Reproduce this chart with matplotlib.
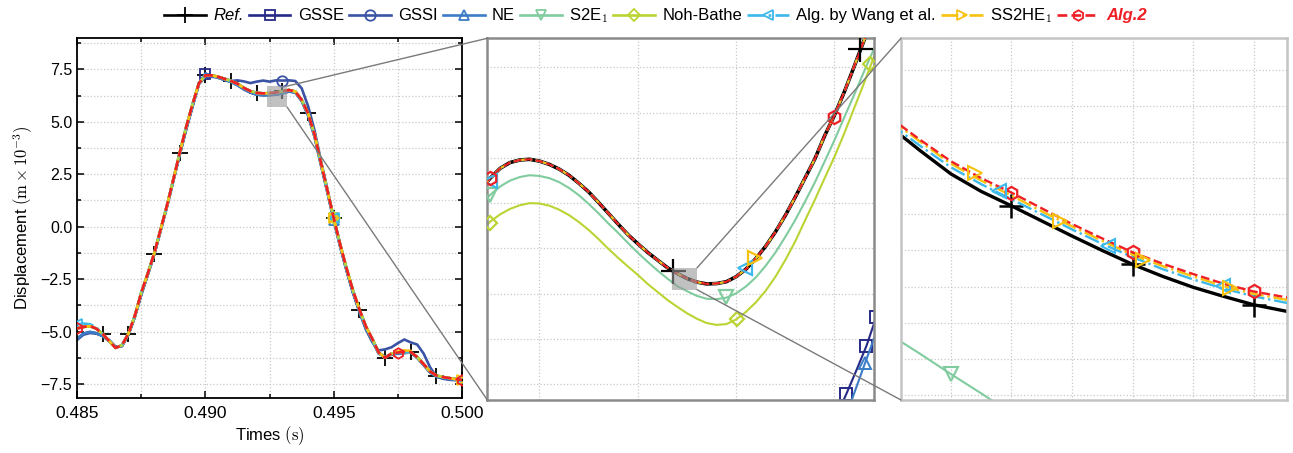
import numpy as np
import matplotlib.pyplot as plt
from matplotlib.patches import Rectangle, ConnectionPatch
from matplotlib.ticker import MultipleLocator

plt.rcParams['font.family'] = ['Liberation Sans', 'DejaVu Sans']
plt.rcParams['mathtext.fontset'] = 'cm'

# ---- main panel data (time in s, displacement in 1e-3 m) ----
t_main = [0.485 + 0.00025 * i for i in range(61)]

alg2_main = [-4.85, -4.78, -4.74, -4.86, -5.12, -5.45, -5.78, -5.65, -5.10, -4.25,
             -3.15, -2.25, -1.30, -0.15, 1.00, 2.25, 3.53, 4.75, 5.85, 6.85,
             7.22, 7.22, 7.15, 7.05, 6.95, 6.82, 6.62, 6.47, 6.38, 6.36,
             6.37, 6.40, 6.46, 6.52, 6.45, 6.05, 5.40, 4.40, 3.05, 1.75,
             0.40, -0.85, -2.00, -3.05, -3.95, -4.75, -5.35, -6.00, -6.25, -6.05,
             -6.00, -5.97, -5.98, -6.22, -6.55, -6.90, -7.10, -7.17, -7.22, -7.27,
             -7.31]

gssi_main = [-5.40, -5.15, -5.07, -5.10, -5.20, -5.40, -5.72, -5.70, -5.15, -4.30,
             -3.20, -2.30, -1.35, -0.20, 0.95, 2.20, 3.45, 4.65, 5.75, 6.80,
             7.15, 7.15, 7.12, 7.07, 6.95, 6.98, 6.93, 6.85, 6.92, 6.97,
             6.92, 6.98, 6.97, 6.98, 6.95, 6.60, 5.75, 4.60, 3.15, 1.80,
             0.40, -0.90, -2.05, -3.15, -4.05, -4.90, -5.50, -5.90, -5.85, -5.75,
             -5.55, -5.38, -5.52, -5.62, -6.05, -6.70, -7.15, -7.25, -7.30, -7.32,
             -7.35]

gsse_main = [-5.35, -5.10, -5.02, -5.08, -5.22, -5.45, -5.75, -5.68, -5.15, -4.30,
             -3.25, -2.30, -1.35, -0.20, 0.95, 2.20, 3.45, 4.65, 5.75, 6.85,
             7.30, 7.20, 7.10, 7.00, 6.90, 6.75, 6.55, 6.40, 6.30, 6.27,
             6.28, 6.30, 6.36, 6.45, 6.40, 6.00, 5.30, 4.30, 2.95, 1.65,
             0.30, -0.95, -2.10, -3.15, -4.05, -4.85, -5.45, -6.05, -6.20, -6.10,
             -6.05, -6.02, -6.00, -6.25, -6.60, -6.95, -7.15, -7.22, -7.27, -7.30,
             -7.33]

ne_main = gsse_main
ref_main = alg2_main
s2e1_main = alg2_main
noh_main = alg2_main
wang_main = [-4.65, -4.62, -4.65, -4.80] + alg2_main[4:]
ss2he1_main = alg2_main[:50] + [-5.95, -5.90, -5.92] + alg2_main[53:]

# ---- first zoom (middle panel) ----
x_mid = [0.49238 + 0.00002 * i for i in range(43)]
ref_mid = [6.288, 6.319, 6.346, 6.362, 6.369, 6.371, 6.366, 6.357, 6.344, 6.327,
           6.305, 6.281, 6.252, 6.222, 6.192, 6.163, 6.138, 6.114, 6.093, 6.072,
           6.056, 6.042, 6.032, 6.027, 6.028, 6.033, 6.047, 6.068, 6.097, 6.131,
           6.171, 6.216, 6.266, 6.319, 6.372, 6.436, 6.493, 6.557, 6.627, 6.699,
           6.769, 6.843, 6.917]
s2e1_mid = [6.245, 6.273, 6.296, 6.312, 6.322, 6.327, 6.325, 6.319, 6.308, 6.292,
            6.272, 6.248, 6.222, 6.194, 6.168, 6.140, 6.113, 6.088, 6.064, 6.042,
            6.021, 6.007, 5.994, 5.986, 5.985, 5.989, 6.001, 6.020, 6.045, 6.077,
            6.114, 6.157, 6.203, 6.254, 6.307, 6.365, 6.424, 6.487, 6.549, 6.613,
            6.675, 6.737, 6.802]
noh_mid = [6.171, 6.199, 6.219, 6.234, 6.244, 6.250, 6.249, 6.243, 6.232, 6.217,
           6.198, 6.176, 6.151, 6.124, 6.099, 6.075, 6.052, 6.027, 6.005, 5.983,
           5.964, 5.946, 5.931, 5.919, 5.914, 5.916, 5.929, 5.950, 5.976, 6.008,
           6.047, 6.093, 6.144, 6.202, 6.259, 6.319, 6.378, 6.443, 6.512, 6.581,
           6.653, 6.723, 6.797]
alg2_mid = ref_mid
wang_mid = ref_mid
ss2he1_mid = ref_mid
gsse_mid_x = [0.493100, 0.493124, 0.493145, 0.493165, 0.493185]
gsse_mid = [5.65, 5.723, 5.79, 5.856, 5.936]
ne_mid_x = [0.493120, 0.493162, 0.493200]
ne_mid = [5.65, 5.808, 5.95]

# marker points in the middle panel
ref_mid_mk = ([0.492772, 0.493152], [6.062, 6.675])
alg2_mid_mk = ([0.492399, 0.493098], [6.318, 6.487])
ss2he1_mid_mk = ([0.492938], [6.098])
wang_mid_mk = ([0.492399, 0.492918], [6.310, 6.070])
s2e1_mid_mk = ([0.492399, 0.492879], [6.272, 5.990])
noh_mid_mk = ([0.492399, 0.492901, 0.493172], [6.195, 5.930, 6.635])

# ---- second zoom (right panel) ----
x_right = [0.492768 + 0.000004 * i for i in range(15)]
ref_right = [6.0565, 6.0525, 6.0487, 6.0458, 6.0434, 6.0409, 6.0384, 6.0360,
             6.0337, 6.0317, 6.0299, 6.0284, 6.0270, 6.0260, 6.0250]
alg2_right = [6.0580, 6.0543, 6.0508, 6.0480, 6.0456, 6.0430, 6.0404, 6.0380,
              6.0357, 6.0338, 6.0321, 6.0305, 6.0292, 6.0283, 6.0274]
ss2he1_right = [6.0577, 6.0540, 6.0504, 6.0476, 6.0451, 6.0425, 6.0400, 6.0376,
                6.0353, 6.0334, 6.0317, 6.0301, 6.0288, 6.0279, 6.0270]
wang_right = [6.0570, 6.0533, 6.0498, 6.0470, 6.0445, 6.0420, 6.0395, 6.0371,
              6.0349, 6.0329, 6.0312, 6.0297, 6.0284, 6.0274, 6.0265]
s2e1_right = [6.0220, 6.0188, 6.0155, 6.0123, 6.0090]

ss2he1_right_mk = ([0.4927792, 0.4927904, 0.4928014, 0.4928129], [6.0489, 6.0409, 6.0345, 6.0298])
wang_right_mk = ([0.4927823, 0.4927968, 0.4928120], [6.0458, 6.0367, 6.0301])
s2e1_right_mk = ([0.4927760], [6.0155])

labels = ['Ref.', 'GSSE', 'GSSI', 'NE', r'S2E$_\mathsf{1}$', 'Noh-Bathe',
          'Alg. by Wang et al.', r'SS2HE$_\mathsf{1}$', 'Alg.2']
colors = ['black', '#262a87', '#3a53a4', '#3b7cc6', '#80cc9e', '#bcd433',
          '#3cb8ea', '#f7c20e', '#ee1f25']
markers = ['+', 's', 'o', '^', 'v', 'D', '<', '>', 'h']
styles = ['-', '-', '-', '-', '-', '-', '-.', '-.', '--']

# limits of the zoom boxes
mid_xlim = (0.492394, 0.493181)
mid_ylim = (5.7066, 6.705)
right_xlim = (0.4927694, 0.4928204)
right_ylim = (6.0112, 6.0712)

fig = plt.figure(figsize=(12.93, 4.53), dpi=100)
ax = fig.add_axes([0.0596, 0.1214, 0.2978, 0.7947])
ax_mid = fig.add_axes([0.3769, 0.1170, 0.2993, 0.7985])
ax_right = fig.add_axes([0.6968, 0.1170, 0.2985, 0.7985])

# main panel
main_series = [ref_main, gsse_main, gssi_main, ne_main, s2e1_main, noh_main,
               wang_main, ss2he1_main, alg2_main]
main_every = [slice(4, 61, 4), [20], [32], [40], [40], [40], [0, 40, 60], [40, 60], [0, 50, 60]]
handles = []
for k, y in enumerate(main_series):
    ms = 11 if markers[k] == '+' else (6 if markers[k] == 'D' else 7.5)
    ln, = ax.plot(t_main, y, color=colors[k], ls=styles[k], lw=1.9, marker=markers[k],
                  ms=ms, mfc='none', mew=1.3, markevery=main_every[k], zorder=2 + k * 0.1,
                  label=labels[k])
    handles.append(ln)

ax.set_xlim(0.485, 0.500)
ax.set_ylim(-8.17, 9.0)
ax.xaxis.set_major_locator(MultipleLocator(0.005))
ax.xaxis.set_minor_locator(MultipleLocator(0.0025))
ax.yaxis.set_major_locator(MultipleLocator(2.5))
ax.yaxis.set_minor_locator(MultipleLocator(1.25))
ax.tick_params(which='both', direction='in', top=True, right=True, width=1.1)
ax.tick_params(which='major', length=5)
ax.tick_params(which='minor', length=3)
ax.tick_params(axis='x', labelsize=12.5, pad=6)
ax.tick_params(axis='y', labelsize=11.5)
ax.grid(which='both', ls=':', color='#c8c8c8', lw=0.9)
for s in ax.spines.values():
    s.set_linewidth(1.3)
ax.set_xlabel(r'Times $(\mathrm{s})$', fontsize=12, labelpad=2)
ax.set_ylabel(r'Displacement $(\mathrm{m}\times10^{-3})$', fontsize=12)

# middle panel
mid_lines = [(x_mid, ref_mid), (gsse_mid_x, gsse_mid), None, (ne_mid_x, ne_mid),
             (x_mid, s2e1_mid), (x_mid, noh_mid), (x_mid, wang_mid), (x_mid, ss2he1_mid),
             (x_mid, alg2_mid)]
mid_marks = [ref_mid_mk, None, None, None, s2e1_mid_mk, noh_mid_mk, wang_mid_mk,
             ss2he1_mid_mk, alg2_mid_mk]
for k in range(9):
    if mid_lines[k] is None:
        continue
    lw = 2.6 if k == 0 else 1.5
    xx, yy = mid_lines[k]
    if k == 1:
        ax_mid.plot(xx, yy, color=colors[k], lw=lw, marker='s', ms=9, mfc='none',
                    mew=1.4, markevery=[1, 3, 4], zorder=2)
    elif k == 3:
        ax_mid.plot(xx, yy, color=colors[k], lw=lw, marker='^', ms=9, mfc='none',
                    mew=1.4, markevery=[1], zorder=2)
    else:
        ax_mid.plot(xx, yy, color=colors[k], ls=styles[k], lw=lw, zorder=2 + k * 0.1)
    if mid_marks[k] is not None:
        ms = 18 if markers[k] == '+' else (7.5 if markers[k] == 'D' else 9.5)
        ax_mid.plot(mid_marks[k][0], mid_marks[k][1], ls='none', marker=markers[k],
                    color=colors[k], ms=ms, mfc='none', mew=1.6, zorder=3 + k * 0.1)

ax_mid.set_xlim(*mid_xlim)
ax_mid.set_ylim(*mid_ylim)
ax_mid.xaxis.set_major_locator(MultipleLocator(0.0002, offset=0.0001))
ax_mid.yaxis.set_major_locator(MultipleLocator(0.125))

# right panel
ax_right.plot(x_right[:5], s2e1_right, color=colors[4], lw=1.5, zorder=2)
ax_right.plot(s2e1_right_mk[0], s2e1_right_mk[1], ls='none', marker='v', color=colors[4],
              ms=10, mfc='none', mew=1.5, zorder=3)
ax_right.plot(x_right, ref_right, color='black', lw=2.4, marker='+', ms=17, mew=1.8,
              markevery=[4, 8, 12], zorder=2)
ax_right.plot(x_right, wang_right, color=colors[6], ls='-.', lw=1.7, zorder=2.6)
ax_right.plot(wang_right_mk[0], wang_right_mk[1], ls='none', marker='<', color=colors[6],
              ms=10, mfc='none', mew=1.5, zorder=3.6)
ax_right.plot(x_right, ss2he1_right, color=colors[7], ls='-.', lw=1.7, zorder=2.7)
ax_right.plot(ss2he1_right_mk[0], ss2he1_right_mk[1], ls='none', marker='>', color=colors[7],
              ms=10, mfc='none', mew=1.5, zorder=3.7)
ax_right.plot(x_right, alg2_right, color=colors[8], ls='--', lw=1.7, marker='h', ms=9.5,
              mfc='none', mew=1.6, markevery=[4, 8, 12], zorder=2.8)

ax_right.set_xlim(*right_xlim)
ax_right.set_ylim(*right_ylim)
ax_right.xaxis.set_major_locator(MultipleLocator(0.000008))
ax_right.yaxis.set_major_locator(MultipleLocator(0.006))

for a, ec in [(ax_mid, '#8a8a8a'), (ax_right, '#c4c4c4')]:
    a.tick_params(which='both', length=0, labelbottom=False, labelleft=False)
    a.grid(which='major', ls=':', color='#c8c8c8', lw=0.9)
    for s in a.spines.values():
        s.set_color(ec)
        s.set_linewidth(1.8)

# zoom boxes
ax.add_patch(Rectangle((mid_xlim[0], mid_ylim[0]), mid_xlim[1] - mid_xlim[0],
                       mid_ylim[1] - mid_ylim[0], facecolor='#999999', alpha=0.6,
                       edgecolor='none', zorder=5))
ax_mid.add_patch(Rectangle((right_xlim[0], right_ylim[0]), right_xlim[1] - right_xlim[0],
                           right_ylim[1] - right_ylim[0], facecolor='#999999', alpha=0.6,
                           edgecolor='none', zorder=5))

for src, lim_x, lim_y, dst in [(ax, mid_xlim, mid_ylim, ax_mid),
                               (ax_mid, right_xlim, right_ylim, ax_right)]:
    for yy, fy in [(lim_y[1], 1), (lim_y[0], 0)]:
        con = ConnectionPatch(xyA=(lim_x[1], yy), coordsA='data', axesA=src,
                              xyB=(0, fy), coordsB='axes fraction', axesB=dst,
                              color='#7a7a7a', lw=1.0, zorder=6)
        fig.add_artist(con)

leg = fig.legend(handles, labels, loc='center', bbox_to_anchor=(0.507, 0.965), ncol=9,
                 frameon=False, fontsize=12, handlelength=2.5, handletextpad=0.45,
                 columnspacing=0.3)
leg.get_texts()[0].set_fontstyle('italic')
leg.get_texts()[-1].set_fontstyle('italic')
leg.get_texts()[-1].set_fontweight('bold')
leg.get_texts()[-1].set_color('#ee1f25')

fig.savefig('out.png', dpi=100)
